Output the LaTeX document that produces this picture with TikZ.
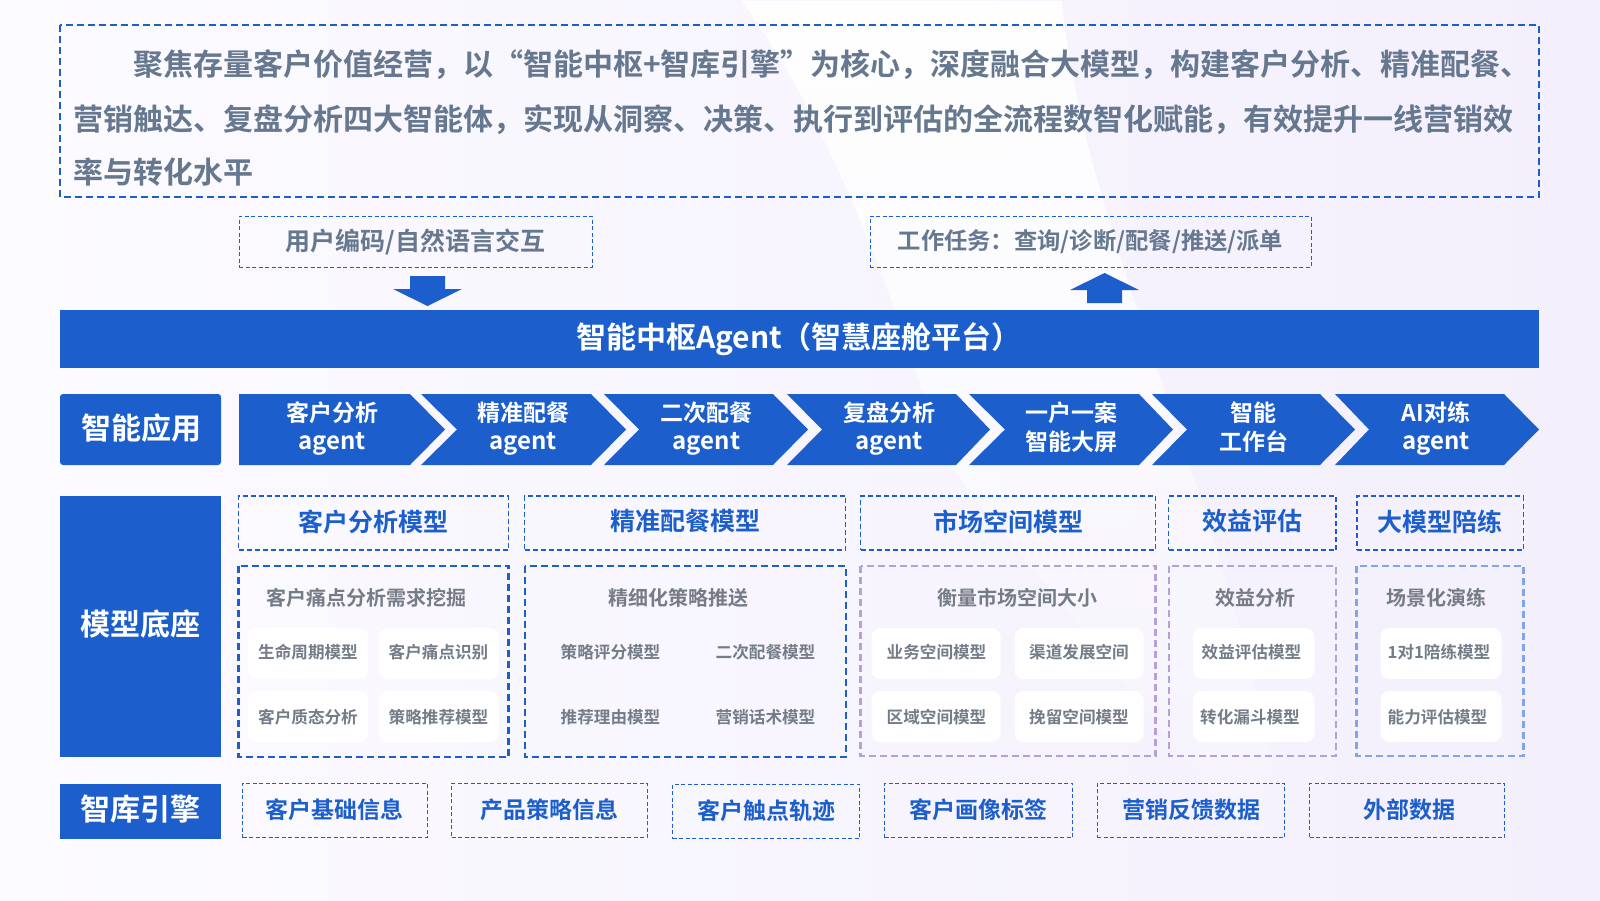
\documentclass[tikz,border=0pt]{standalone}
\usepackage{fontspec}
\setmainfont{Noto Sans CJK SC}[BoldFont={Noto Sans CJK SC Bold}]
\usetikzlibrary{arrows,fadings}
\definecolor{mainblue}{HTML}{1C5FCC}
\definecolor{softgray}{HTML}{66788F}
\definecolor{chipgray}{HTML}{747C88}
\definecolor{softpurple}{HTML}{B79FD8}
\definecolor{softblue}{HTML}{7FA6E8}
\definecolor{bgright}{HTML}{F3EFFC}
\definecolor{bgleft}{HTML}{FCFBFF}
\tikzset{
  bluebox/.style={fill=mainblue,draw=none,text=white,font=\fontsize{30}{30}\selectfont\bfseries,inner sep=0pt},
  bluetext/.style={inner sep=0pt,text=white,font=\fontsize{30}{30}\selectfont\bfseries},
  introline/.style={anchor=west,inner sep=0pt,text=softgray,font=\fontsize{30}{30}\selectfont\bfseries},
  inputbox/.style={draw=mainblue,line width=1pt,dash pattern=on 4pt off 2.5pt,text=softgray,font=\fontsize{25}{25}\selectfont\bfseries,inner sep=0pt},
  titlebox/.style={draw=mainblue,line width=1.1pt,dash pattern=on 5pt off 3pt,text=mainblue,font=\fontsize{25}{25}\selectfont\bfseries,inner sep=0pt},
  databox/.style={draw=mainblue,line width=1pt,dash pattern=on 4pt off 2.5pt,text=mainblue,font=\fontsize{23}{23}\selectfont\bfseries,inner sep=0pt},
  groupline/.style={line width=2.1pt,dash pattern=on 7pt off 4pt},
  grouptitle/.style={inner sep=0pt,text=chipgray,font=\fontsize{20}{20}\selectfont\bfseries},
  chipbox/.style={fill=white,rounded corners=9pt,inner sep=0pt},
  chiptext/.style={inner sep=0pt,text=chipgray,font=\fontsize{16.6}{17}\selectfont\bfseries},
  chevtext/.style={inner sep=0pt,text=white,font=\fontsize{23}{23}\selectfont\bfseries},
  chevagent/.style={inner sep=0pt,text=white,font=\fontsize{24}{24}\selectfont\bfseries},
  chevfill/.style={fill=mainblue,draw=none},
}
\begin{document}
\begin{tikzpicture}[x=1pt,y=-1pt]
\useasboundingbox (0,0) rectangle (1600,900);

% background
\shade[left color=bgleft,right color=bgright] (0,0) rectangle (1600,900);
\fill[white,path fading=south] (742,0) .. controls (800,80) and (870,210) .. (943,457) -- (1300,900) .. controls (1230,480) and (1090,260) .. (1062,0) -- cycle;

% intro
\draw[groupline,draw=mainblue,line width=1.6pt] (60,25) rectangle (1539,197);
\node[introline] (introa) at (133,65) {聚焦存量客户价值经营，以“智能中枢+智库引擎”为核心，深度融合大模型，构建客户分析、精准配餐、};
\node[introline] (introb) at (73,120) {营销触达、复盘分析四大智能体，实现从洞察、决策、执行到评估的全流程数智化赋能，有效提升一线营销效};
\node[introline] (introc) at (73,172) {率与转化水平};

% inputs
\node[inputbox,minimum width=353,minimum height=51] (userinput) at (415.5,241.5) {用户编码/自然语言交互};
\node[inputbox,font=\fontsize{23.3}{24}\selectfont\bfseries,minimum width=441,minimum height=51] (worktask) at (1090.5,241.5) {工作任务：查询/诊断/配餐/推送/派单};
\fill[mainblue] (410,276) -- (445,276) -- (445,289) -- (462,289) -- (427.5,306) -- (393,289) -- (410,289) -- cycle;
\fill[mainblue] (1087,303) -- (1122,303) -- (1122,290) -- (1139,290) -- (1104.5,273) -- (1070,290) -- (1087,290) -- cycle;

% hub
\node[bluebox,minimum width=1479,minimum height=58] (hub) at (799.5,339) {};
\node[bluetext] (hubtext) at (799,339) {智能中枢Agent（智慧座舱平台）};

% apps
\node[bluebox,rounded corners=3pt,minimum width=161,minimum height=71] (apps) at (140.5,429.5) {};
\node[bluetext] (appstext) at (141,428) {智能应用};
\fill[chevfill] (239,394) -- (410,394) -- (445,429.5) -- (410,465) -- (239,465) -- cycle;
\fill[chevfill] (421,394) -- (591,394) -- (626,429.5) -- (591,465) -- (421,465) -- (457,429.5) -- cycle;
\fill[chevfill] (604,394) -- (773,394) -- (808,429.5) -- (773,465) -- (604,465) -- (639,429.5) -- cycle;
\fill[chevfill] (787,394) -- (956,394) -- (990,429.5) -- (956,465) -- (787,465) -- (822,429.5) -- cycle;
\fill[chevfill] (969,394) -- (1139,394) -- (1173,429.5) -- (1139,465) -- (969,465) -- (1005,429.5) -- cycle;
\fill[chevfill] (1152,394) -- (1320,394) -- (1355,429.5) -- (1320,465) -- (1152,465) -- (1187,429.5) -- cycle;
\fill[chevfill] (1335,394) -- (1504,394) -- (1539,429.5) -- (1504,465) -- (1335,465) -- (1369,429.5) -- cycle;
\node[chevtext] (appaa) at (332,413) {客户分析};
\node[chevagent] (appab) at (332,444) {agent};
\node[chevtext] (appba) at (523,413) {精准配餐};
\node[chevagent] (appbb) at (523,444) {agent};
\node[chevtext] (appca) at (706.5,413) {二次配餐};
\node[chevagent] (appcb) at (706.5,444) {agent};
\node[chevtext] (appda) at (889,413) {复盘分析};
\node[chevagent] (appdb) at (889,444) {agent};
\node[chevtext] (appea) at (1071,413) {一户一案};
\node[chevtext] (appeb) at (1071,442) {智能大屏};
\node[chevtext] (appfa) at (1253.5,413) {智能};
\node[chevtext] (appfb) at (1253.5,442) {工作台};
\node[chevtext] (appga) at (1436,413) {AI对练};
\node[chevagent] (appgb) at (1436,444) {agent};

% models
\node[bluebox,minimum width=161,minimum height=261] (models) at (140.5,626.5) {};
\node[bluetext] (modelstext) at (140.5,624) {模型底座};
\node[titlebox,minimum width=269.5,minimum height=54] (tcustomer) at (373.5,523) {};
\node[titlebox,minimum width=321,minimum height=54] (tprecise) at (685,523) {};
\node[titlebox,minimum width=295,minimum height=54] (tmarket) at (1008,523) {};
\node[titlebox,minimum width=167.5,minimum height=54] (tbenefit) at (1252.25,523) {};
\node[titlebox,minimum width=166.5,minimum height=54] (ttrain) at (1440.25,523) {};
\node[titlebox,draw=none] (tcustomertext) at (373.5,521.5) {客户分析模型};
\node[titlebox,draw=none] (tprecisetext) at (685,521.5) {精准配餐模型};
\node[titlebox,draw=none] (tmarkettext) at (1008,521.5) {市场空间模型};
\node[titlebox,draw=none] (tbenefittext) at (1252.5,521.5) {效益评估};
\node[titlebox,draw=none] (ttraintext) at (1440,521.5) {大模型陪练};
\draw[groupline,draw=mainblue] (238.5,566) rectangle (508.5,757);
\draw[groupline,draw=mainblue] (525,566) rectangle (846,757);
\draw[groupline,draw=softpurple] (860.5,566) rectangle (1155.5,756);
\draw[groupline,draw=softpurple] (1169,566) rectangle (1336,756);
\draw[groupline,draw=softblue] (1356.5,566) rectangle (1523.5,756);
\node[grouptitle] (gcustomer) at (366.5,597.5) {客户痛点分析需求挖掘};
\node[grouptitle] (gprecise) at (678,597.5) {精细化策略推送};
\node[grouptitle] (gmarket) at (1017,597.5) {衡量市场空间大小};
\node[grouptitle] (gbenefit) at (1255,597.5) {效益分析};
\node[grouptitle] (gtrain) at (1436,597.5) {场景化演练};

\node[chipbox,minimum width=120,minimum height=51] (chipa) at (308,653.5) {};
\node[chipbox,minimum width=120,minimum height=51] (chipb) at (438.75,653.5) {};
\node[chipbox,minimum width=120,minimum height=51] (chipc) at (308,716.5) {};
\node[chipbox,minimum width=120,minimum height=51] (chipd) at (438.75,716.5) {};
\node[chipbox,minimum width=129,minimum height=51] (chipe) at (936,653.5) {};
\node[chipbox,minimum width=129,minimum height=51] (chipf) at (1079,653.5) {};
\node[chipbox,minimum width=129,minimum height=51] (chipg) at (936,716.5) {};
\node[chipbox,minimum width=129,minimum height=51] (chiph) at (1079,716.5) {};
\node[chipbox,minimum width=121.5,minimum height=51] (chipi) at (1253.75,653.5) {};
\node[chipbox,minimum width=121.5,minimum height=51] (chipj) at (1253.75,716.5) {};
\node[chipbox,minimum width=121,minimum height=51] (chipk) at (1441,653.5) {};
\node[chipbox,minimum width=121,minimum height=51] (chipl) at (1441,716.5) {};

\node[chiptext] (mlife) at (308,652) {生命周期模型};
\node[chiptext] (mpain) at (438.5,652) {客户痛点识别};
\node[chiptext] (mqual) at (308,717) {客户质态分析};
\node[chiptext] (mstrat) at (438.5,717) {策略推荐模型};
\node[chiptext] (mscore) at (610.5,652) {策略评分模型};
\node[chiptext] (msecond) at (765.5,652) {二次配餐模型};
\node[chiptext] (mreason) at (610.5,717) {推荐理由模型};
\node[chiptext] (mtalk) at (765.5,717) {营销话术模型};
\node[chiptext] (mbiz) at (936.5,652) {业务空间模型};
\node[chiptext] (mchannel) at (1079,652) {渠道发展空间};
\node[chiptext] (marea) at (936.5,717) {区域空间模型};
\node[chiptext] (mkeep) at (1079,717) {挽留空间模型};
\node[chiptext] (meval) at (1251.5,652) {效益评估模型};
\node[chiptext] (mfunnel) at (1250,717) {转化漏斗模型};
\node[chiptext] (mone) at (1439,652) {1对1陪练模型};
\node[chiptext] (mability) at (1437.5,717) {能力评估模型};

% data
\node[bluebox,minimum width=161,minimum height=55] (data) at (140.5,811.5) {};
\node[bluetext] (datatext) at (140.5,809) {智库引擎};
\node[databox,minimum width=184.5,minimum height=54.5] (dbase) at (334.75,810.5) {};
\node[databox,minimum width=195.5,minimum height=54.5] (dprod) at (549.25,810.5) {};
\node[databox,minimum width=187,minimum height=54.5] (dtouch) at (766,811.5) {};
\node[databox,minimum width=188,minimum height=54.5] (dimage) at (978.6,810.5) {};
\node[databox,minimum width=187.5,minimum height=54.5] (dfeed) at (1190.75,810.5) {};
\node[databox,minimum width=195,minimum height=54.5] (dout) at (1407.2,810.5) {};
\node[databox,draw=none] (dbasetext) at (334,809.5) {客户基础信息};
\node[databox,draw=none] (dprodtext) at (549,809.5) {产品策略信息};
\node[databox,draw=none] (dtouchtext) at (766,810.5) {客户触点轨迹};
\node[databox,draw=none] (dimagetext) at (978,809.5) {客户画像标签};
\node[databox,draw=none] (dfeedtext) at (1191,809.5) {营销反馈数据};
\node[databox,draw=none] (douttext) at (1409.5,809.5) {外部数据};
\end{tikzpicture}
\end{document}
